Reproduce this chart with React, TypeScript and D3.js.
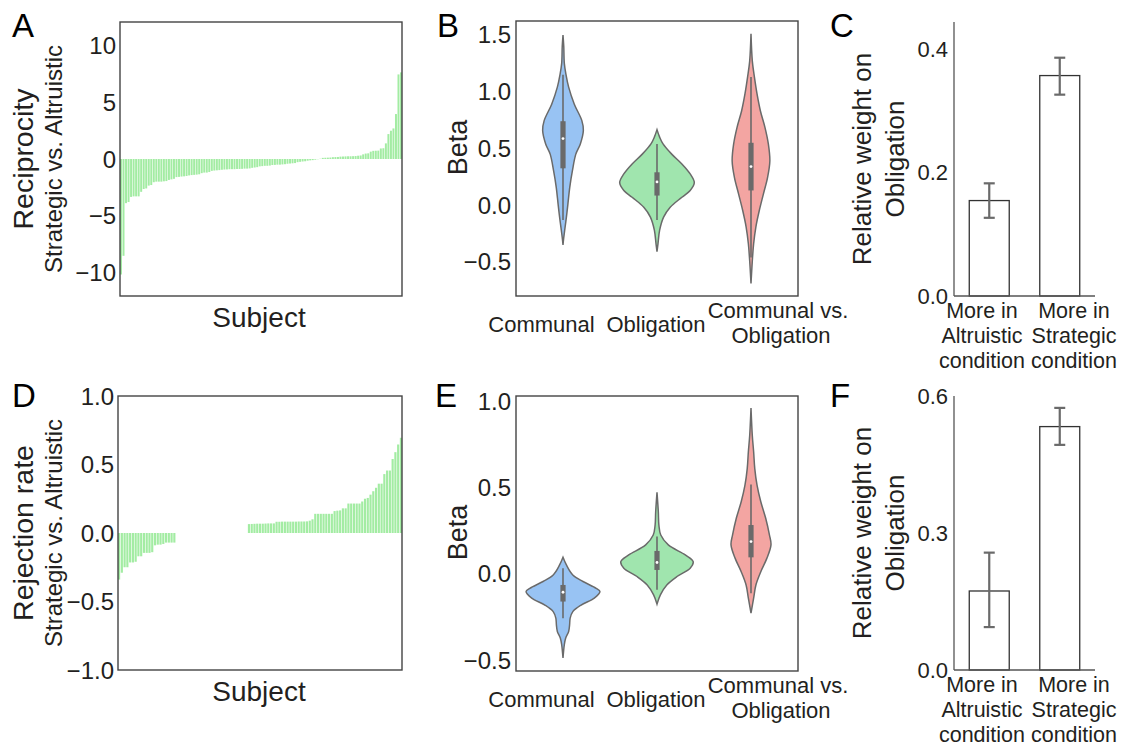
import * as d3 from "d3";

// ---- Panel A / D: per-subject difference (Strategic vs. Altruistic), sorted
const reciprocityDiff = [
  -10.2, -8.55, -3.9, -3.8, -3.35, -3.3, -3.3, -3.3, -2.9, -2.65, -2.6, -2.35, -2.3,
  -2.05, -2.0, -2.0, -2.0, -1.97, -1.95, -1.85, -1.8, -1.75, -1.6, -1.58, -1.55, -1.53,
  -1.5, -1.45, -1.42, -1.4, -1.38, -1.35, -1.25, -1.2, -1.2, -1.15, -1.05, -1.02, -1.0,
  -0.98, -0.95, -0.93, -0.92, -0.9, -0.9, -0.9, -0.88, -0.88, -0.87, -0.85, -0.85, -0.83,
  -0.78, -0.75, -0.72, -0.65, -0.63, -0.6, -0.6, -0.58, -0.53, -0.52, -0.5, -0.5, -0.48,
  -0.46, -0.42, -0.4, -0.38, -0.36, -0.28, -0.25, -0.22, -0.2, -0.15, -0.12, -0.1, -0.06,
  -0.02, 0.02, 0.1, 0.11, 0.12, 0.13, 0.16, 0.17, 0.18, 0.21, 0.22, 0.23, 0.24, 0.24,
  0.25, 0.26, 0.29, 0.31, 0.41, 0.48, 0.5, 0.65, 0.72, 0.73, 0.74, 0.93, 0.95, 1.38, 2.2,
  2.5, 2.7, 3.97, 7.47, 7.65,
];

const rejectionDiff = [
  -0.34, -0.29, -0.25, -0.25, -0.215, -0.215, -0.21, -0.17, -0.17, -0.145, -0.145, -0.145,
  -0.14, -0.09, -0.085, -0.085, -0.08, -0.07, -0.07, -0.07, -0.07,
  0, 0, 0, 0, 0, 0, 0, 0, 0, 0, 0, 0, 0, 0, 0, 0, 0, 0, 0, 0, 0, 0, 0, 0, 0, 0,
  0.065, 0.066, 0.067, 0.068, 0.068, 0.068, 0.069, 0.07, 0.07, 0.07,
  0.082, 0.082, 0.083, 0.083, 0.083, 0.083, 0.083, 0.083, 0.084, 0.084, 0.084, 0.085,
  0.09, 0.1, 0.14, 0.14, 0.14, 0.14, 0.14, 0.14, 0.14, 0.16, 0.163, 0.165, 0.18, 0.18,
  0.215, 0.215, 0.215, 0.215, 0.215, 0.23, 0.25, 0.256, 0.28, 0.305, 0.33, 0.36, 0.36,
  0.43, 0.456, 0.456, 0.54, 0.59, 0.646, 0.695,
];

const ticksA = [10, 5, 0, -5, -10];
const ticksD = [1.0, 0.5, 0.0, -0.5, -1.0];

// ---- Panel B / E: violins (KDE profile: level -> relative density) + box stats
const violinCats = ["Communal", "Obligation", "Communal vs. Obligation"];
const violinColors = ["#98c3f3", "#a0e5ae", "#f3a5a2"];

const bCommunalLevels = [1.5, 1.4, 1.25, 1.15, 1.04, 0.89, 0.745, 0.66, 0.54, 0.45, 0.305, 0.16, 0.01, -0.105, -0.22, -0.3, -0.35];
const bCommunalDensity = [0, 0.02, 0.035, 0.08, 0.15, 0.3, 0.5, 0.54, 0.46, 0.34, 0.25, 0.18, 0.13, 0.09, 0.045, 0.015, 0];
const bObligationLevels = [0.666, 0.6, 0.54, 0.45, 0.364, 0.276, 0.2, 0.13, 0.07, -0.018, -0.105, -0.22, -0.34, -0.41];
const bObligationDensity = [0, 0.07, 0.16, 0.39, 0.66, 0.88, 0.99, 0.88, 0.66, 0.35, 0.175, 0.07, 0.026, 0];
const bContrastLevels = [1.51, 1.27, 1.13, 0.98, 0.83, 0.686, 0.54, 0.39, 0.246, 0.1, -0.047, -0.19, -0.34, -0.49, -0.69];
const bContrastDensity = [0, 0.035, 0.09, 0.16, 0.25, 0.37, 0.46, 0.5, 0.44, 0.33, 0.22, 0.13, 0.07, 0.035, 0];

const eCommunalLevels = [0.096, 0.052, -0.006, -0.044, -0.083, -0.102, -0.14, -0.18, -0.218, -0.256, -0.295, -0.333, -0.372, -0.41, -0.487];
const eCommunalDensity = [0, 0.09, 0.26, 0.53, 0.88, 0.98, 0.83, 0.48, 0.26, 0.19, 0.175, 0.15, 0.07, 0.035, 0];
const eObligationLevels = [0.472, 0.36, 0.283, 0.225, 0.168, 0.11, 0.071, 0.033, -0.015, -0.064, -0.121, -0.175];
const eObligationDensity = [0, 0.035, 0.05, 0.1, 0.3, 0.75, 0.96, 0.88, 0.53, 0.26, 0.09, 0];
const eContrastLevels = [0.961, 0.8, 0.707, 0.61, 0.514, 0.418, 0.322, 0.225, 0.168, 0.09, 0.013, -0.064, -0.14, -0.227];
const eContrastDensity = [0, 0.035, 0.07, 0.1, 0.16, 0.26, 0.39, 0.49, 0.53, 0.42, 0.26, 0.13, 0.07, 0];

// box stats: [whiskerLow, q1, median, q3, whiskerHigh]
const bBoxStats = [
  [-0.13, 0.325, 0.587, 0.74, 1.15],
  [-0.13, 0.085, 0.205, 0.29, 0.54],
  [-0.46, 0.13, 0.34, 0.55, 1.13],
];
const eBoxStats = [
  [-0.256, -0.16, -0.106, -0.064, 0.033],
  [-0.092, 0.023, 0.066, 0.133, 0.216],
  [-0.112, 0.096, 0.187, 0.283, 0.518],
];

const ticksB = [1.5, 1.0, 0.5, 0.0, -0.5];
const ticksE = [1.0, 0.5, 0.0, -0.5];

// ---- Panel C / F: relative weight on Obligation
const conditions = ["More in Altruistic condition", "More in Strategic condition"];
const weightC = [0.155, 0.358];
const errLowC = [0.127, 0.327];
const errHighC = [0.183, 0.387];
const weightF = [0.173, 0.533];
const errLowF = [0.094, 0.493];
const errHighF = [0.257, 0.574];
const ticksC = [0.4, 0.2, 0.0];
const ticksF = [0.6, 0.3, 0.0];

const FONT = "'Liberation Sans', Arial, Helvetica, sans-serif";
const INK = "#231f20";
const FRAME = "#444";
const VGRAY = "#6a6a6a";
const BAR_GREEN = "#a3eca3";

function fmt(v: number, digits: number) {
  const s = digits === 0 ? String(Math.round(v)) : v.toFixed(digits);
  return s.replace("-", "\u2212");
}

function YTicks({ scale, ticks, x, digits, size = 24 }: { scale: d3.ScaleLinear<number, number>; ticks: number[]; x: number; digits: number; size?: number }) {
  return (
    <g>
      {ticks.map((t) => (
        <text key={t} x={x} y={scale(t)} textAnchor="end" dominantBaseline="central" fontSize={size} fill={INK}>
          {fmt(t, digits)}
        </text>
      ))}
    </g>
  );
}

function SubjectPanel({ values, top, left, ticks, digits, domain, title }: { values: number[]; top: number; left: number; ticks: number[]; digits: number; domain: [number, number]; title: string }) {
  const right = 402;
  const bottom = top + 274;
  const x = d3.scaleBand<number>().domain(d3.range(values.length)).range([left, right]).paddingInner(0.22);
  const y = d3.scaleLinear().domain(domain).range([bottom, top]);
  const midY = (top + bottom) / 2;
  return (
    <g>
      {values.map((v, i) => (
        <rect key={i} x={x(i)} width={x.bandwidth()} y={Math.min(y(v), y(0))} height={Math.abs(y(v) - y(0))} fill={BAR_GREEN} />
      ))}
      <rect x={left} y={top} width={right - left} height={bottom - top} fill="none" stroke={FRAME} strokeWidth={1.4} />
      <YTicks scale={y} ticks={ticks} x={left - 4} digits={digits} />
      <text transform={`translate(33,${midY}) rotate(-90)`} textAnchor="middle" fontSize={28.5} fill={INK}>{title}</text>
      <text transform={`translate(62,${midY}) rotate(-90)`} textAnchor="middle" fontSize={24} fill={INK}>Strategic vs. Altruistic</text>
      <text x={259} y={bottom + 31} textAnchor="middle" fontSize={28} fill={INK}>Subject</text>
    </g>
  );
}

function ViolinPanel({ top, domain, ticks, profiles, boxes, betaShift }: { top: number; domain: [number, number]; ticks: number[]; profiles: [number[], number[]][]; boxes: number[][]; betaShift: number }) {
  const left = 516;
  const right = 798;
  const bottom = top + 275;
  const x = d3.scaleBand<string>().domain(violinCats).range([left, right]);
  const y = d3.scaleLinear().domain(domain).range([bottom, top]);
  const halfMax = 37.7;
  return (
    <g>
      <rect x={left} y={top} width={right - left} height={bottom - top} fill="none" stroke={FRAME} strokeWidth={1.4} />
      {violinCats.map((c, i) => {
        const cx = (x(c) as number) + x.bandwidth() / 2;
        const [levels, dens] = profiles[i];
        const pts = levels.map((l, k) => [l, dens[k]] as [number, number]);
        const area = d3
          .area<[number, number]>()
          .y((d) => y(d[0]))
          .x0((d) => cx - d[1] * halfMax)
          .x1((d) => cx + d[1] * halfMax)
          .curve(d3.curveCatmullRom.alpha(0.5));
        const [wl, q1, med, q3, wh] = boxes[i];
        return (
          <g key={c}>
            <path d={area(pts) || ""} fill={violinColors[i]} stroke={VGRAY} strokeWidth={1.5} />
            <line x1={cx} x2={cx} y1={y(wl)} y2={y(wh)} stroke={VGRAY} strokeWidth={1.6} />
            <rect x={cx - 2.6} width={5.2} y={y(q3)} height={y(q1) - y(q3)} fill={VGRAY} />
            <circle cx={cx} cy={y(med)} r={1.4} fill="white" />
          </g>
        );
      })}
      <YTicks scale={y} ticks={ticks} x={left - 5} digits={1} />
      <text transform={`translate(467,${(top + bottom) / 2 + betaShift}) rotate(-90)`} textAnchor="middle" fontSize={27} fill={INK}>Beta</text>
      <text x={541.5} y={bottom + 36} textAnchor="middle" fontSize={22} fill={INK}>Communal</text>
      <text x={656} y={bottom + 36} textAnchor="middle" fontSize={22} fill={INK}>Obligation</text>
      <text x={778} y={bottom + 22} textAnchor="middle" fontSize={22} fill={INK}>Communal vs.</text>
      <text x={781} y={bottom + 47} textAnchor="middle" fontSize={22} fill={INK}>Obligation</text>
    </g>
  );
}

function WeightPanel({ top, bottom, domain, ticks, values, lo, hi }: { top: number; bottom: number; domain: [number, number]; ticks: number[]; values: number[]; lo: number[]; hi: number[] }) {
  const left = 954;
  const right = 1095;
  const x = d3.scaleBand<string>().domain(conditions).range([left, right]).paddingInner(0.433).paddingOuter(0.2165);
  const y = d3.scaleLinear().domain(domain).range([bottom, top]);
  const midY = (top + bottom) / 2;
  const labelX = [982, 1074];
  return (
    <g>
      {conditions.map((c, i) => {
        const bx = x(c) as number;
        const cx = bx + x.bandwidth() / 2;
        return (
          <g key={c}>
            <rect x={bx} width={x.bandwidth()} y={y(values[i])} height={y(0) - y(values[i])} fill="white" stroke="#333" strokeWidth={1.3} />
            <line x1={cx} x2={cx} y1={y(lo[i])} y2={y(hi[i])} stroke={VGRAY} strokeWidth={2.2} />
            <line x1={cx - 5.5} x2={cx + 5.5} y1={y(lo[i])} y2={y(lo[i])} stroke={VGRAY} strokeWidth={2.2} />
            <line x1={cx - 5.5} x2={cx + 5.5} y1={y(hi[i])} y2={y(hi[i])} stroke={VGRAY} strokeWidth={2.2} />
            {c.replace("More in ", "More in|").replace(" condition", "|condition").split("|").map((line, k) => (
              <text key={k} x={labelX[i]} y={bottom + 22 + k * 25} textAnchor="middle" fontSize={21.5} fill={INK}>{line}</text>
            ))}
          </g>
        );
      })}
      <line x1={left} x2={left} y1={top} y2={bottom} stroke="#555" strokeWidth={1.3} />
      <line x1={left} x2={right} y1={bottom} y2={bottom} stroke="#555" strokeWidth={1.3} />
      <YTicks scale={y} ticks={ticks} x={left - 6} digits={1} size={22} />
      <text transform={`translate(871,${midY}) rotate(-90)`} textAnchor="middle" fontSize={26} fill={INK}>Relative weight on</text>
      <text transform={`translate(904,${midY}) rotate(-90)`} textAnchor="middle" fontSize={26} fill={INK}>Obligation</text>
    </g>
  );
}

export default function App() {
  const panelLabels: [string, number, number][] = [
    ["A", 12, 37], ["B", 437, 37], ["C", 830, 37],
    ["D", 12, 407], ["E", 435, 407], ["F", 830, 407],
  ];
  return (
    <svg width={1123} height={747} style={{ position: "absolute", left: 0, top: 0, background: "white" }} fontFamily={FONT}>
      <SubjectPanel values={reciprocityDiff} top={22} left={120} ticks={ticksA} digits={0} domain={[-12.1, 12.1]} title="Reciprocity" />
      <SubjectPanel values={rejectionDiff} top={396} left={118} ticks={ticksD} digits={1} domain={[-1, 1]} title="Rejection rate" />
      <ViolinPanel
        top={21}
        domain={[-0.8, 1.623]}
        ticks={ticksB}
        profiles={[[bCommunalLevels, bCommunalDensity], [bObligationLevels, bObligationDensity], [bContrastLevels, bContrastDensity]]}
        boxes={bBoxStats}
        betaShift={-11}
      />
      <ViolinPanel
        top={396}
        domain={[-0.562, 1.03]}
        ticks={ticksE}
        profiles={[[eCommunalLevels, eCommunalDensity], [eObligationLevels, eObligationDensity], [eContrastLevels, eContrastDensity]]}
        boxes={eBoxStats}
        betaShift={-1}
      />
      <WeightPanel top={22} bottom={296} domain={[0, 0.445]} ticks={ticksC} values={weightC} lo={errLowC} hi={errHighC} />
      <WeightPanel top={396} bottom={670} domain={[0, 0.6]} ticks={ticksF} values={weightF} lo={errLowF} hi={errHighF} />
      {panelLabels.map(([t, x, y]) => (
        <text key={t} x={x} y={y} fontSize={33} fill="#000">{t}</text>
      ))}
    </svg>
  );
}
